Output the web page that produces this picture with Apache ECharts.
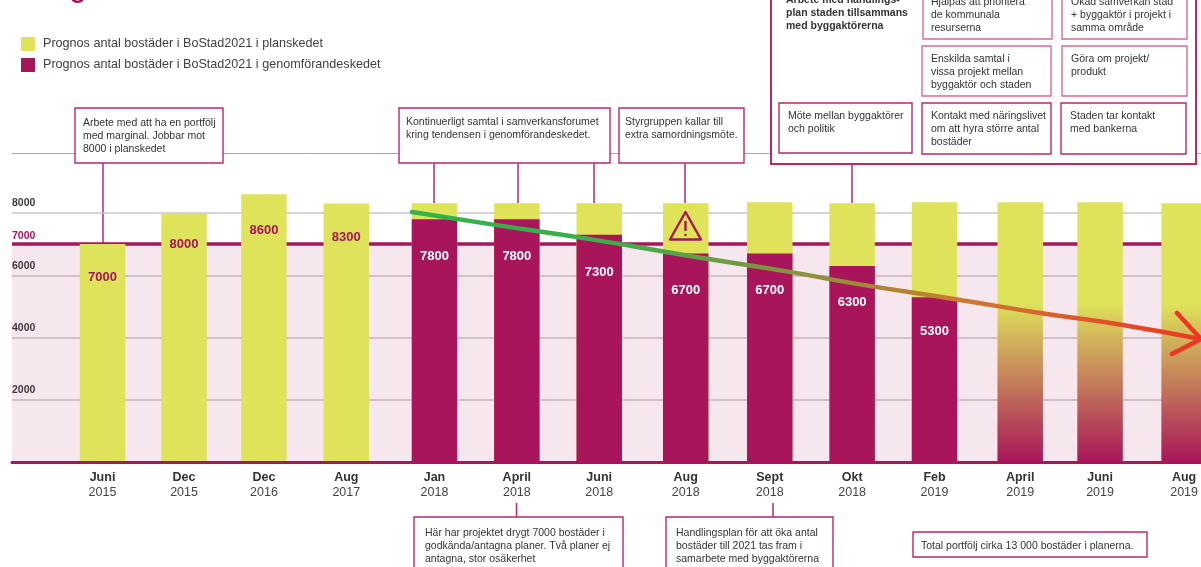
<!DOCTYPE html>
<html><head><meta charset="utf-8">
<style>html,body{margin:0;padding:0;background:#fff;overflow:hidden}#c{width:1201px;height:567px}</style>
<script src="https://cdn.jsdelivr.net/npm/echarts@6/dist/echarts.min.js"></script>
</head><body><div id="c"></div>
<script>
// ---- data ----
const months = ['Juni','Dec','Dec','Aug','Jan','April','Juni','Aug','Sept','Okt','Feb','April','Juni','Aug'];
const years  = ['2015','2015','2016','2017','2018','2018','2018','2018','2018','2018','2019','2019','2019','2019'];
// the dates are unevenly spaced along the time line in the picture
const slotPos = [0,0.98,1.94,2.93,3.99,4.98,5.97,7.01,8.02,9.01,10.0,11.03,11.99,13.0];
const planTotals = [7000,8000,8600,8300,8310,8310,8310,8310,8340,8310,8340,null,null,null];
const buildValues = [null,null,null,null,7800,7800,7300,6700,6700,6300,5300,null,null,null];
const forecastTotals = [null,null,null,null,null,null,null,null,null,null,null,8340,8340,8310];
const trendSlots  = [3.72,4.66,5.86,7.06,8.26,9.01,10.31,11.27,12.26,13.2];
const trendValues = [8030,7640,7160,6620,6110,5750,5210,4790,4410,3960];
const yTicks = [2000,4000,6000,7000,8000];
const gridTicks = [2000,4000,6000,8000];
const threshold = 7000;
const nameYellow = 'Prognos antal bostäder i BoStad2021 i planskedet';
const namePurple = 'Prognos antal bostäder i BoStad2021 i genomförandeskedet';

// ---- annotation layout ----
const YEL='#dee35a', PUR='#a9155a', BOXC='#b7286c', FONT='"Liberation Sans",Arial,sans-serif';
const planLabelDy = [2,0,5,2];
const buildLabelDy = [0,0,0,0,1,1,1,0,0,0,-2];
const boxes = [
 {r:[75,108,148,55],  t:[83,116],  s:'Arbete med att ha en portfölj\nmed marginal. Jobbar mot\n8000 i planskedet'},
 {r:[399,108,211,55], t:[406,115], s:'Kontinuerligt samtal i samverkansforumet\nkring tendensen i genomförandeskedet.'},
 {r:[619,108,125,55], t:[625,115], s:'Styrgruppen kallar till\nextra samordningsmöte.'},
 {r:[771,-60,425,224],t:[786,-7],  s:'Arbete med handlings-\nplan staden tillsammans\nmed byggaktörerna', b:1, lw:2},
 {r:[923,-30,129,69], t:[931,-5],  s:'Hjälpas att prioritera\nde kommunala\nresurserna', c:'#d56c98'},
 {r:[1062,-30,125,69],t:[1071,-5], s:'Ökad samverkan stad\n+ byggaktör i projekt i\nsamma område', c:'#d56c98'},
 {r:[922,46,129,50],  t:[931,52],  s:'Enskilda samtal i\nvissa projekt mellan\nbyggaktör och staden', c:'#d56c98'},
 {r:[1062,46,125,50], t:[1071,52], s:'Göra om projekt/\nprodukt', c:'#d56c98'},
 {r:[779,103,133,50], t:[788,109], s:'Möte mellan byggaktörer\noch politik'},
 {r:[922,103,129,51], t:[931,109], s:'Kontakt med näringslivet\nom att hyra större antal\nbostäder'},
 {r:[1061,103,125,51],t:[1070,109],s:'Staden tar kontakt\nmed bankerna'},
 {r:[414,517,209,70], t:[425,526], s:'Här har projektet drygt 7000 bostäder i\ngodkända/antagna planer. Två planer ej\nantagna, stor osäkerhet'},
 {r:[666,517,167,70], t:[676,526], s:'Handlingsplan för att öka antal\nbostäder till 2021 tas fram i\nsamarbete med byggaktörerna'},
 {r:[913,532,234,25], t:[921,539], s:'Total portfölj cirka 13 000 bostäder i planerna.'}
];
const connectors = [[103,163,243],[434,163,203],[518,163,203],[594,163,203],[685,163,203],[852,164,203],[516.5,503,517],[773,503,517]];

const graphics = [];
graphics.push({type:'text',x:70,y:-22,style:{text:'g',font:'bold 26px '+FONT,fill:PUR}});
graphics.push({type:'line',shape:{x1:12,y1:153.5,x2:1201,y2:153.5},style:{stroke:'#a8a8a8',lineWidth:1}});
connectors.forEach(c=>graphics.push({type:'line',shape:{x1:c[0],y1:c[1],x2:c[0],y2:c[2]},style:{stroke:BOXC,lineWidth:1.5}}));
boxes.forEach(b=>{
  graphics.push({type:'rect',shape:{x:b.r[0],y:b.r[1],width:b.r[2],height:b.r[3]},style:{fill:'#fff',stroke:b.c||BOXC,lineWidth:b.lw||1.4}});
  graphics.push({type:'text',x:b.t[0],y:b.t[1],style:{text:b.s,fill:'#333',font:(b.b?'bold ':'')+'10.5px '+FONT,lineHeight:13.3}});
});
const onTop = {z:50,zlevel:1};
// warning sign
graphics.push({type:'polygon',...onTop,shape:{points:[[685.5,212],[701,239.5],[670,239.5]]},style:{fill:'none',stroke:PUR,lineWidth:2.4,lineJoin:'round'}});
graphics.push({type:'line',...onTop,shape:{x1:685.5,y1:221,x2:685.5,y2:231},style:{stroke:PUR,lineWidth:2.4}});
graphics.push({type:'circle',...onTop,shape:{cx:685.5,cy:235,r:1.3},style:{fill:PUR}});
// arrow head of the trend
graphics.push({type:'polyline',...onTop,shape:{points:[[1177,313],[1201,339],[1172,354]]},style:{fill:'none',stroke:'#ee3524',lineWidth:4.5,lineCap:'round'}});

const pairs = a => slotPos.map((x,i)=>[x,a[i]]);
const chart = echarts.init(document.getElementById('c'),null,{renderer:'canvas'});
chart.setOption({
  animation:false,
  backgroundColor:'#fff',
  legend:{orient:'vertical',left:21,top:37,padding:0,itemWidth:14,itemHeight:14,itemGap:7,icon:'rect',
    data:[nameYellow,namePurple],selectedMode:false,
    textStyle:{fontFamily:FONT,fontSize:12.6,color:'#404040',padding:[1,0,0,3]}},
  grid:{left:12,right:0,top:0,bottom:104.5},
  xAxis:{type:'value',min:-1.088,max:13.2,splitLine:{show:false},z:4,
    axisLine:{onZero:true,lineStyle:{color:PUR,width:3}},axisTick:{show:false},
    axisLabel:{customValues:slotPos,margin:7,hideOverlap:false,
      formatter:v=>{const i=slotPos.indexOf(v);return '{m|'+months[i]+'}\n{y|'+years[i]+'}';},
      rich:{m:{fontFamily:FONT,fontWeight:'bold',fontSize:12.5,color:'#333',lineHeight:15.5,align:'center'},
            y:{fontFamily:FONT,fontSize:12.5,color:'#444',lineHeight:15.5,align:'center'}}}},
  yAxis:{type:'value',min:0,max:14824,
    axisLine:{show:false},
    axisTick:{show:false,customValues:gridTicks},
    splitLine:{show:true,lineStyle:{color:'#c8c5c8',width:1.5}},
    axisLabel:{inside:true,margin:0,customValues:yTicks,verticalAlign:'bottom',
      fontFamily:FONT,fontWeight:'bold',fontSize:10.5,color:'#3c3c3c',
      formatter:v=>(v===threshold?'{p|':'{n|')+v+'}',
      rich:{n:{fontFamily:FONT,fontWeight:'bold',fontSize:10.5,color:'#3c3c3c',padding:[0,0,4,0]},
            p:{fontFamily:FONT,fontWeight:'bold',fontSize:10.5,color:PUR,padding:[0,0,2,0]}}}},
  graphic:{elements:graphics},
  series:[
    {name:nameYellow,type:'bar',barWidth:45.5,barGap:'-100%',itemStyle:{color:YEL},z:2,
     data:pairs(planTotals).map((d,i)=>({value:d,label:{show:i<4,offset:[0,planLabelDy[i]||0]}})),
     label:{position:'insideTop',distance:25,color:PUR,fontFamily:FONT,fontWeight:'bold',fontSize:13,formatter:p=>p.value[1]},
     markArea:{silent:true,z:1,itemStyle:{color:'rgba(170,20,90,0.1)'},data:[[{yAxis:0},{yAxis:threshold}]]},
     markLine:{silent:true,z:1,symbol:'none',label:{show:false},lineStyle:{color:PUR,width:3.5,type:'solid'},data:[{yAxis:threshold}]}
    },
    {name:namePurple,type:'bar',barWidth:45.5,barGap:'-100%',itemStyle:{color:PUR},z:2,
     data:pairs(buildValues).map((d,i)=>({value:d,label:{offset:[0,buildLabelDy[i]||0]}})),
     label:{show:true,position:'insideTop',distance:30,color:'#fff',fontFamily:FONT,fontWeight:'bold',fontSize:13,formatter:p=>p.value[1]}},
    {name:'forecast',type:'bar',barWidth:45.5,barGap:'-100%',z:2,
     itemStyle:{color:new echarts.graphic.LinearGradient(0,0,0,1,[{offset:0,color:YEL},{offset:0.385,color:YEL},{offset:1,color:PUR}])},
     data:pairs(forecastTotals)},
    {name:'trend',type:'line',symbol:'none',smooth:true,z:6,clip:false,
     lineStyle:{width:4.5,cap:'round',color:new echarts.graphic.LinearGradient(0,0,1,0,[{offset:0,color:'#2fb34a'},{offset:0.25,color:'#3cae4a'},{offset:0.7,color:'#cc7a30'},{offset:1,color:'#ee3524'}])},
     data:trendSlots.map((x,i)=>[x,trendValues[i]])}
  ]
});
</script></body></html>
